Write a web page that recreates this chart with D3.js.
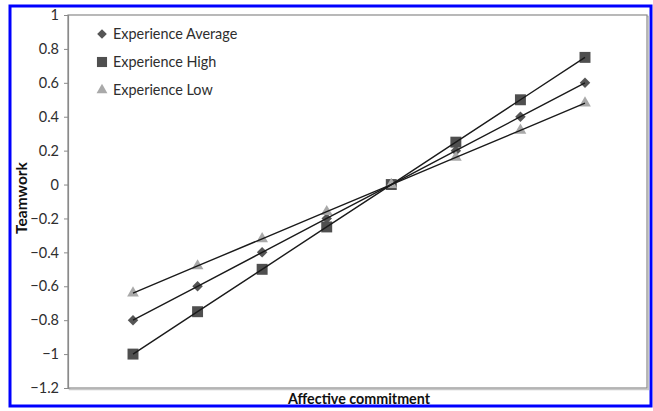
<!DOCTYPE html>
<html>
<head>
<meta charset="utf-8">
<script src="https://cdn.jsdelivr.net/npm/d3@7"></script>
<style>
  html, body { margin: 0; padding: 0; background: #fff; }
  svg { display: block; }
  text { font-family: Lato, "Open Sans", sans-serif; }
</style>
</head>
<body>
<svg id="chart" width="653" height="411"></svg>
<script>
// ---- data ----
const xPositions = [1, 2, 3, 4, 5, 6, 7, 8];
const seriesNames = ["Experience Average", "Experience High", "Experience Low"];
const experienceAverage = [-0.8, -0.6, -0.4, -0.2, 0, 0.2, 0.4, 0.6];
const experienceHigh = [-1, -0.75, -0.5, -0.25, 0, 0.25, 0.5, 0.75];
const experienceLow = [-0.64, -0.48, -0.32, -0.16, 0, 0.16, 0.32, 0.48];
const yTicks = [-1.2, -1, -0.8, -0.6, -0.4, -0.2, 0, 0.2, 0.4, 0.6, 0.8, 1];
const xTitle = "Affective commitment";
const yTitle = "Teamwork";

const svg = d3.select("#chart");
const plot = { left: 68, right: 647, top: 15, bottom: 388 };

const x = d3.scaleLinear().domain([1, 8]).range([133, 585]);
const y = d3.scaleLinear().domain([-1.2, 1]).range([plot.bottom, plot.top]);

// outer blue frame
svg.append("rect").attr("x", 10).attr("y", 6).attr("width", 641).attr("height", 400)
  .attr("fill", "#fff").attr("stroke", "#0000ff").attr("stroke-width", 3);

// plot frame with shadow
svg.append("rect").attr("x", plot.left + 1.5).attr("y", plot.top + 1.5)
  .attr("width", plot.right - plot.left).attr("height", plot.bottom - plot.top)
  .attr("fill", "none").attr("stroke", "#c8c8c8").attr("stroke-width", 1.5);
svg.append("rect").attr("x", plot.left).attr("y", plot.top)
  .attr("width", plot.right - plot.left).attr("height", plot.bottom - plot.top)
  .attr("fill", "#fff").attr("stroke", "#8a8a8a").attr("stroke-width", 1.2);

// y axis
const yAxis = d3.axisLeft(y).tickValues(yTicks).tickSize(4).tickPadding(5)
  .tickFormat(d => d3.format("~g")(+d.toFixed(1)));
const gy = svg.append("g").attr("transform", `translate(${plot.left},0)`).call(yAxis);
gy.select(".domain").attr("stroke", "#8a8a8a").attr("stroke-width", 1.2);
gy.selectAll(".tick line").attr("stroke", "#8a8a8a");
gy.selectAll(".tick text").attr("fill", "#2e2e2e").style("font-size", "14.5px")
  .style("font-family", "Lato, sans-serif");

// titles
svg.append("text").attr("x", 359).attr("y", 404).attr("text-anchor", "middle")
  .style("font-size", "14.3px").style("font-weight", "bold").attr("fill", "#111")
  .text(xTitle);
svg.append("text").attr("transform", "translate(27,198) rotate(-90)")
  .attr("text-anchor", "middle").style("font-size", "15.5px").style("font-weight", "bold")
  .attr("fill", "#111").text(yTitle);

// series
const series = [
  { name: seriesNames[0], values: experienceAverage, shape: d3.symbolDiamond2, size: 70, color: "#555555" },
  { name: seriesNames[1], values: experienceHigh, shape: d3.symbolSquare, size: 120, color: "#4f4f4f" },
  { name: seriesNames[2], values: experienceLow, shape: d3.symbolTriangle, size: 60, color: "#a9a9a9" }
];

const line = d3.line().x((d, i) => x(xPositions[i])).y(d => y(d));

series.forEach(s => {
  svg.append("g").selectAll("path").data(s.values).join("path")
    .attr("transform", (d, i) => `translate(${x(xPositions[i])},${y(d)})`)
    .attr("d", d3.symbol().type(s.shape).size(s.size))
    .attr("fill", s.color);
});
series.forEach(s => {
  svg.append("path").datum(s.values).attr("d", line)
    .attr("fill", "none").attr("stroke", "#1a1a1a").attr("stroke-width", 1.4);
});

// legend
const legend = svg.append("g");
series.forEach((s, i) => {
  const ly = 34 + i * 28;
  legend.append("path").attr("transform", `translate(102,${ly})`)
    .attr("d", d3.symbol().type(s.shape).size(s.size * 0.85)).attr("fill", s.color);
  legend.append("text").attr("x", 113).attr("y", ly + 5)
    .style("font-size", "14.4px").attr("fill", "#2e2e2e").text(s.name);
});
</script>
</body>
</html>
